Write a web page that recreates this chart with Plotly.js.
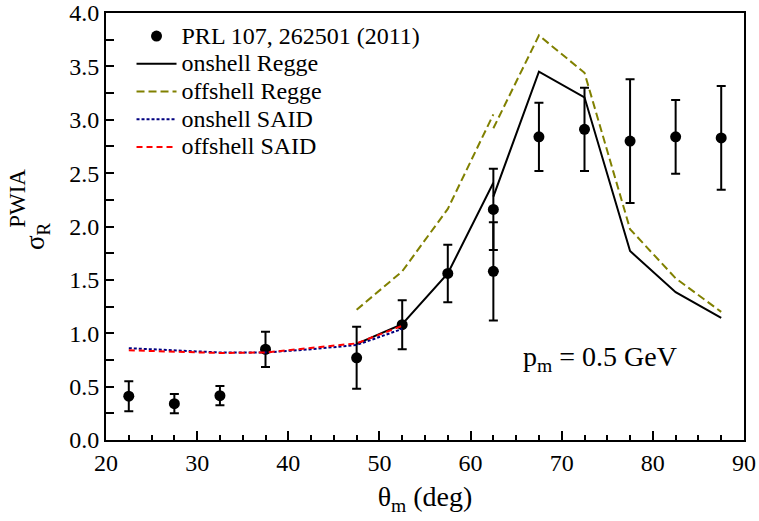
<!DOCTYPE html>
<html>
<head>
<meta charset="utf-8">
<script src="https://cdn.plot.ly/plotly-3.0.1.min.js"></script>
<style>
html,body{margin:0;padding:0;background:#fff;}
#chart{width:759px;height:521px;}
</style>
</head>
<body>
<div id="chart"></div>
<script>
// Experimental data (PRL 107, 262501 (2011))
const dataTheta = [22.5, 27.5, 32.5, 37.5, 47.5, 52.5, 57.5, 62.5, 62.5, 67.5, 72.5, 77.5, 82.5, 87.5];
const dataSigma = [0.41, 0.34, 0.415, 0.85, 0.77, 1.08, 1.56, 2.16, 1.58, 2.84, 2.91, 2.80, 2.84, 2.83];
const dataErr   = [0.14, 0.09, 0.09, 0.165, 0.29, 0.23, 0.27, 0.38, 0.46, 0.32, 0.39, 0.58, 0.345, 0.485];

// onshell Regge (null marks the break at 62.5)
const onReggeTheta = [47.5, 52.5, 57.5, 62.5, 62.5, 62.5, 67.5, 72.5, 77.5, 82.5, 87.5];
const onReggeSigma = [0.90, 1.085, 1.56, 2.41, null, 2.28, 3.45, 3.21, 1.77, 1.385, 1.145];

// offshell Regge
const offReggeTheta = [47.5, 52.5, 57.5, 62.5, 62.5, 62.5, 67.5, 72.5, 77.5, 82.5, 87.5];
const offReggeSigma = [1.22, 1.58, 2.165, 3.05, null, 2.92, 3.79, 3.44, 1.975, 1.515, 1.20];

// onshell SAID
const onSaidTheta = [22.5, 27.5, 32.5, 37.5, 42.5, 47.5, 52.5];
const onSaidSigma = [0.86, 0.84, 0.82, 0.82, 0.85, 0.89, 1.04];

// offshell SAID
const offSaidTheta = [22.5, 27.5, 32.5, 37.5, 42.5, 47.5, 52.5];
const offSaidSigma = [0.84, 0.83, 0.815, 0.82, 0.86, 0.905, 1.07];

// tick labels
const yTickVals = [0, 0.5, 1.0, 1.5, 2.0, 2.5, 3.0, 3.5, 4.0];
const yTickText = ['0.0', '0.5', '1.0', '1.5', '2.0', '2.5', '3.0', '3.5', '4.0'];

const FONT = 'Liberation Serif';
const LEG = s => '<span style="font-size:24px">' + s + '</span>';

const traces = [
  {x: dataTheta, y: dataSigma, type: 'scatter', mode: 'markers', name: LEG('PRL 107, 262501 (2011)'),
   marker: {color: '#000', size: 11},
   error_y: {type: 'data', array: dataErr, visible: true, color: '#000', thickness: 2, width: 4.5}},
  {x: onReggeTheta, y: onReggeSigma, type: 'scatter', mode: 'lines', name: LEG('onshell Regge'),
   line: {color: '#000', width: 2}, connectgaps: false},
  {x: offReggeTheta, y: offReggeSigma, type: 'scatter', mode: 'lines', name: LEG('offshell Regge'),
   line: {color: '#808000', width: 2, dash: '8px,4px'}, connectgaps: false},
  {x: onSaidTheta, y: onSaidSigma, type: 'scatter', mode: 'lines', name: LEG('onshell SAID'),
   line: {color: '#000080', width: 2, dash: '3px,2px'}},
  {x: offSaidTheta, y: offSaidSigma, type: 'scatter', mode: 'lines', name: LEG('offshell SAID'),
   line: {color: '#ff0000', width: 2, dash: '6px,4px'}}
];

const layout = {
  width: 759, height: 521,
  margin: {l: 106, r: 15, t: 13, b: 81},
  paper_bgcolor: '#fff', plot_bgcolor: '#fff',
  font: {family: FONT, size: 21, color: '#000'},
  showlegend: true,
  legend: {x: 0.04, y: 0.99, xanchor: 'left', yanchor: 'top', bgcolor: 'rgba(0,0,0,0)',
           font: {family: FONT, size: 19, color: '#000'}, itemwidth: 40, tracegroupgap: 0},
  xaxis: {range: [20, 90], dtick: 10, tick0: 20, ticks: 'inside', ticklen: 9, tickwidth: 2, tickcolor: '#000',
          showline: true, linewidth: 2, linecolor: '#000', mirror: true, showgrid: false, zeroline: false,
          minor: {dtick: 2.5, ticks: 'inside', ticklen: 5, tickwidth: 2, tickcolor: '#000', showgrid: false},
          tickfont: {family: FONT, size: 24, color: '#000'},
          title: {text: 'θ<sub>m</sub> (deg)', font: {family: FONT, size: 28, color: '#000'}, standoff: 12}},
  yaxis: {range: [0, 4.0], tickmode: 'array', tickvals: yTickVals, ticktext: yTickText,
          ticks: 'inside', ticklen: 8, tickwidth: 2, tickcolor: '#000',
          showline: true, linewidth: 2, linecolor: '#000', mirror: true, showgrid: false, zeroline: false,
          minor: {dtick: 0.25, ticks: 'inside', ticklen: 8, tickwidth: 2, tickcolor: '#000', showgrid: false},
          tickfont: {family: FONT, size: 24, color: '#000'}},
  annotations: [
    {xref: 'paper', yref: 'paper', x: -0.108, y: 0.478, xanchor: 'center', yanchor: 'middle',
     text: 'σ<sub>R</sub>', textangle: -90, showarrow: false, font: {family: FONT, size: 27, color: '#000'}},
    {xref: 'paper', yref: 'paper', x: -0.138, y: 0.567, xanchor: 'center', yanchor: 'middle',
     text: 'PWIA', textangle: -90, showarrow: false, font: {family: FONT, size: 23, color: '#000'}},
    {xref: 'paper', yref: 'paper', x: 0.774, y: 0.19, xanchor: 'center', yanchor: 'middle',
     text: 'p<sub>m</sub> = 0.5 GeV', showarrow: false, font: {family: FONT, size: 28, color: '#000'}}
  ]
};

Plotly.newPlot('chart', traces, layout, {displayModeBar: false, staticPlot: true});
</script>
</body>
</html>
